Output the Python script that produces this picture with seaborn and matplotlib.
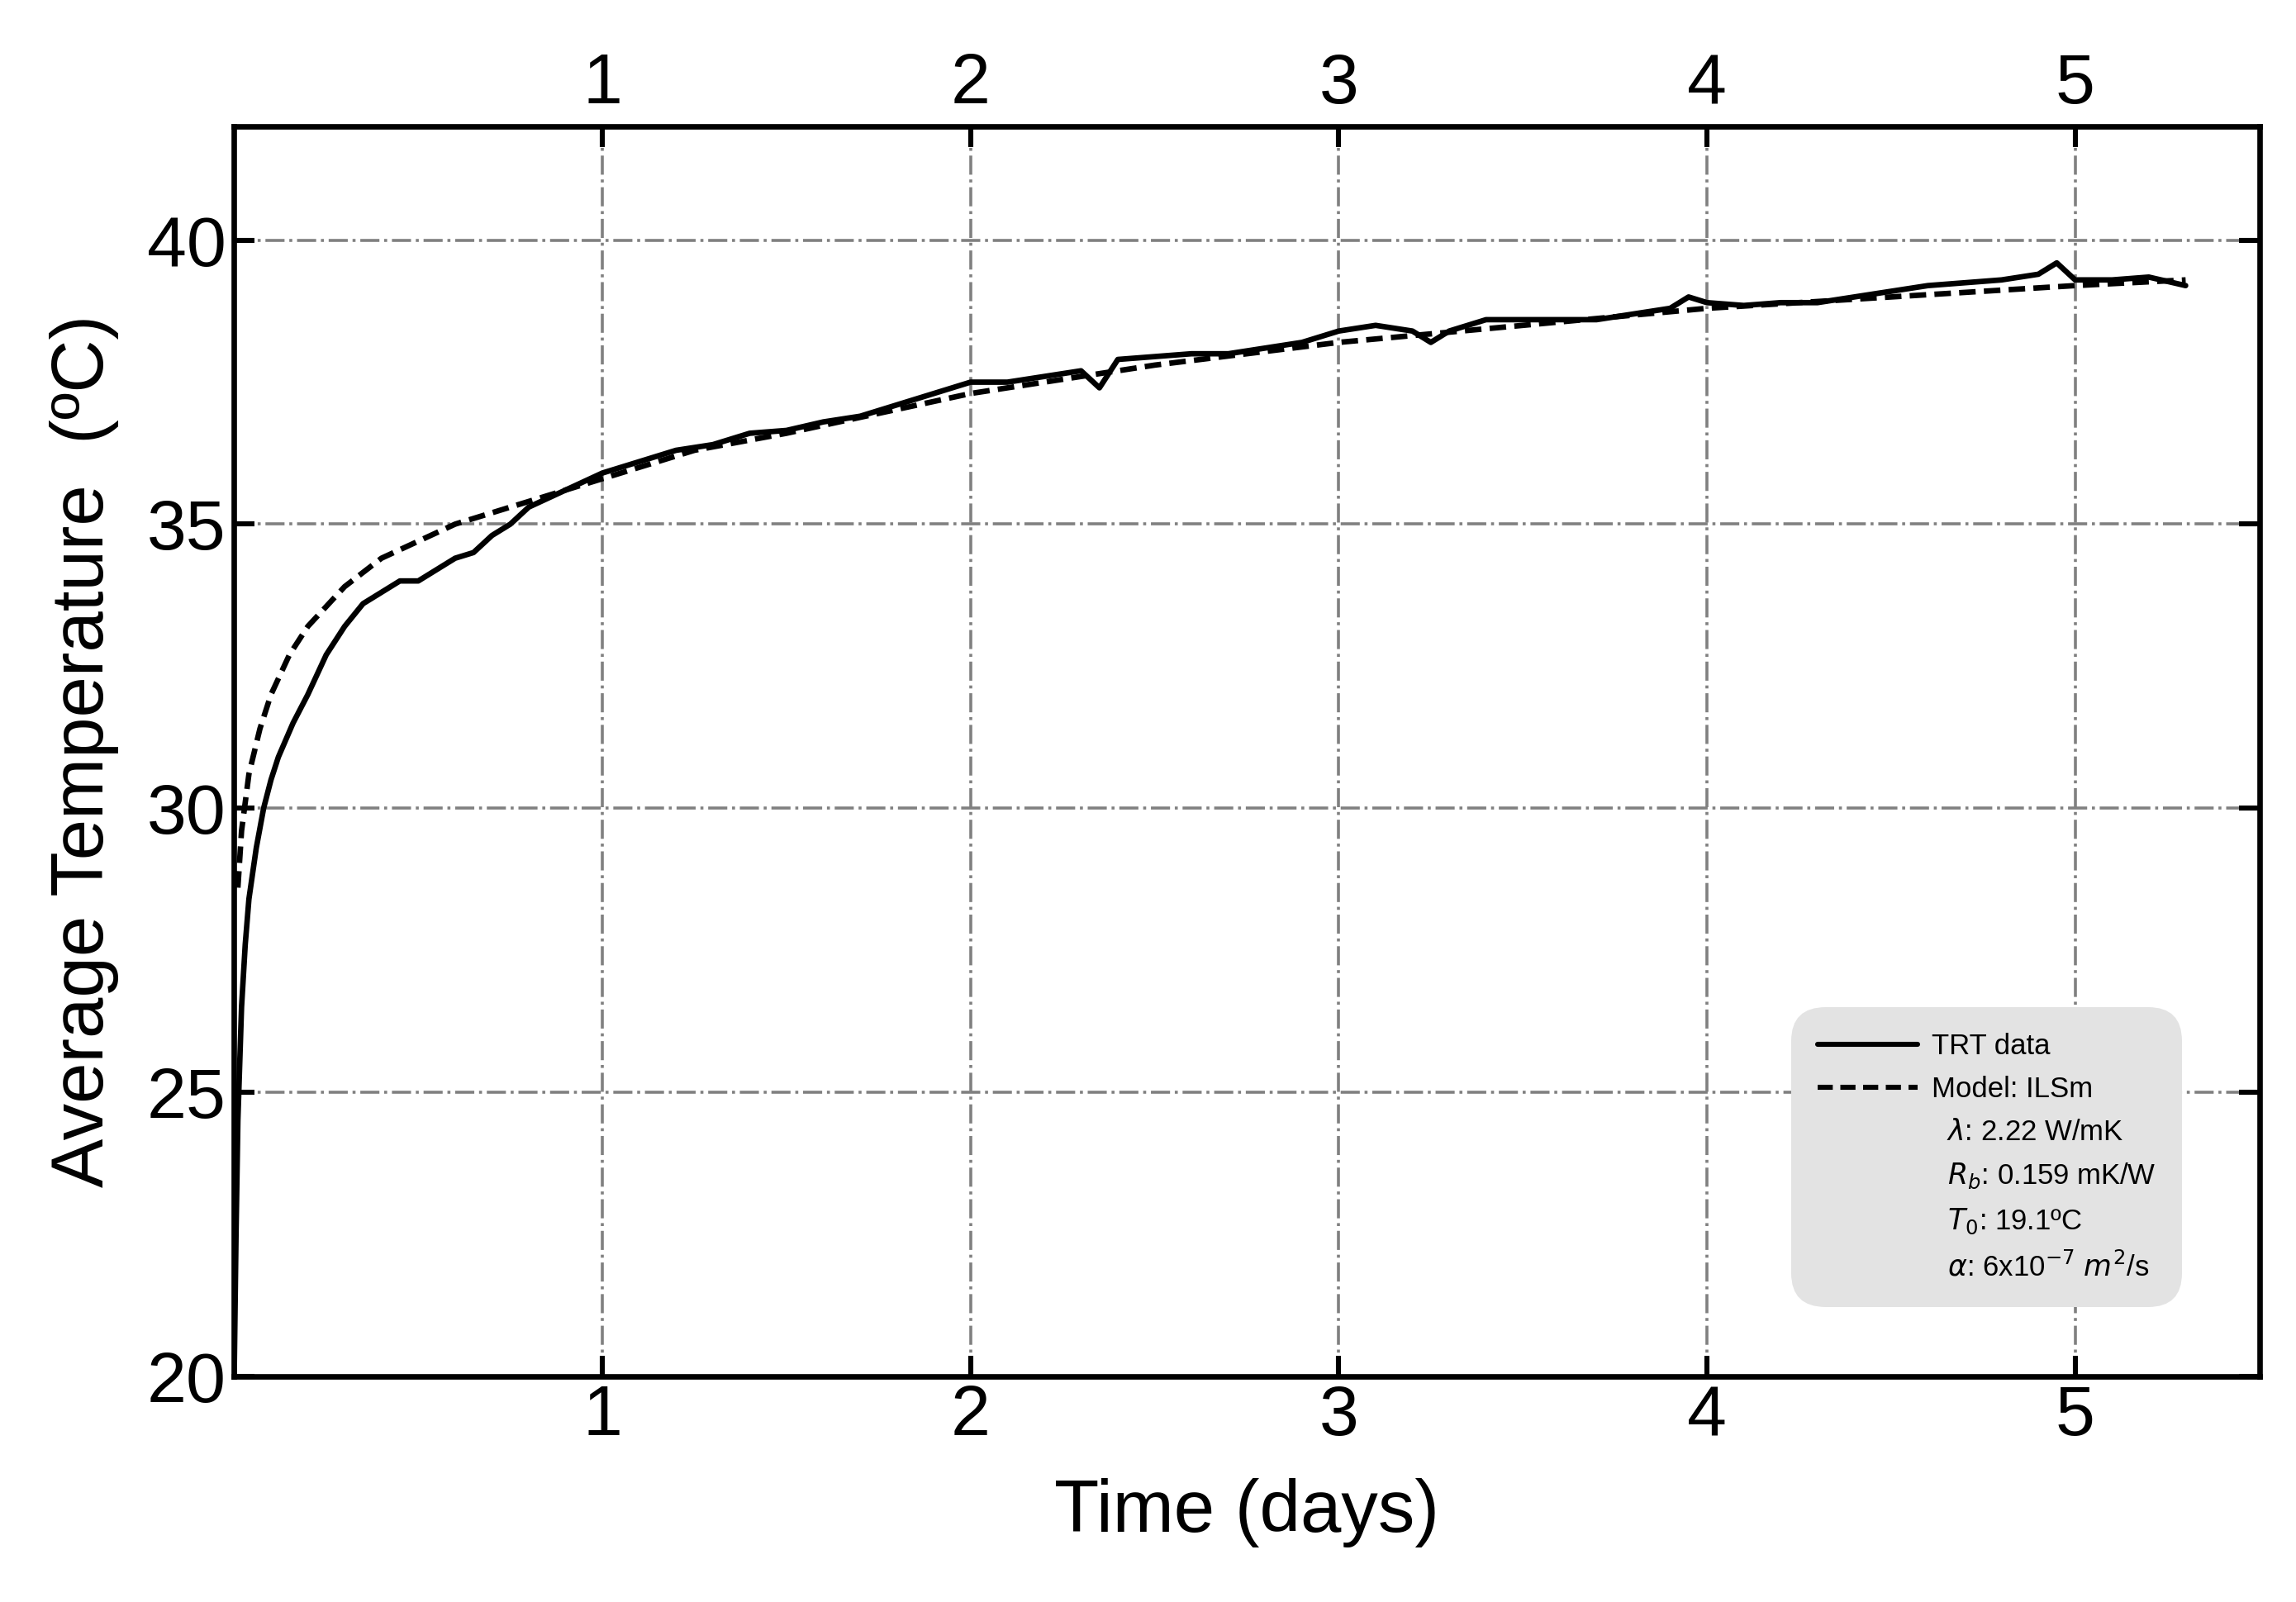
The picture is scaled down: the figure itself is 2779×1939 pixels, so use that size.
import numpy as np
import pandas as pd
import matplotlib
matplotlib.use("Agg")
import matplotlib.pyplot as plt
from matplotlib.lines import Line2D
import seaborn as sns

trt_days = [0.0, 0.005, 0.01, 0.02, 0.03, 0.04, 0.06, 0.08, 0.1, 0.12, 0.16, 0.2, 0.25, 0.3, 0.35, 0.4, 0.45,
            0.5, 0.55, 0.6, 0.65, 0.7, 0.75, 0.8, 0.9, 1.0, 1.1, 1.2, 1.3, 1.4, 1.5, 1.6, 1.7, 1.8, 1.9, 2.0,
            2.1, 2.2, 2.3, 2.35, 2.4, 2.5, 2.6, 2.7, 2.8, 2.9, 3.0, 3.1, 3.2, 3.25, 3.3, 3.4, 3.5, 3.6, 3.7,
            3.8, 3.9, 3.95, 4.0, 4.1, 4.2, 4.3, 4.4, 4.5, 4.6, 4.7, 4.8, 4.9, 4.95, 5.0, 5.1, 5.2, 5.3]
trt_temp = [20.0, 22.5, 24.5, 26.5, 27.6, 28.4, 29.3, 30.0, 30.5, 30.9, 31.5, 32.0, 32.7, 33.2, 33.6, 33.8, 34.0,
            34.0, 34.2, 34.4, 34.5, 34.8, 35.0, 35.3, 35.6, 35.9, 36.1, 36.3, 36.4, 36.6, 36.65, 36.8, 36.9, 37.1, 37.3, 37.5,
            37.5, 37.6, 37.7, 37.4, 37.9, 37.95, 38.0, 38.0, 38.1, 38.2, 38.4, 38.5, 38.4, 38.2, 38.4, 38.6, 38.6, 38.6, 38.6,
            38.7, 38.8, 39.0, 38.9, 38.85, 38.9, 38.9, 39.0, 39.1, 39.2, 39.25, 39.3, 39.4, 39.6, 39.3, 39.3, 39.35, 39.2]
model_days = [0.01, 0.02, 0.04, 0.07, 0.1, 0.15, 0.2, 0.3, 0.4, 0.5, 0.6, 0.7, 0.85, 1.0, 1.25, 1.5, 1.75,
              2.0, 2.5, 3.0, 3.5, 4.0, 4.5, 5.0, 5.3]
model_temp = [28.6, 29.6, 30.6, 31.4, 32.0, 32.7, 33.2, 33.9, 34.4, 34.7, 35.0, 35.2, 35.5, 35.8, 36.3, 36.6, 36.95,
              37.3, 37.8, 38.2, 38.5, 38.8, 39.0, 39.2, 39.3]
legend_labels = ["TRT data", "Model: ILSm", r"  $\lambda$: 2.22 W/mK", r"  $R_b$: 0.159 mK/W",
                 r"  $T_0$: 19.1ºC", r"  $\alpha$: 6x10$^{-7}$ $m^2$/s"]

sns.set_theme(style="white")
plt.rcParams['font.family'] = ['Liberation Sans', 'DejaVu Sans']
plt.rcParams['mathtext.fontset'] = 'dejavusans'
plt.rcParams['text.color'] = 'black'
plt.rcParams['axes.labelcolor'] = 'black'
plt.rcParams['xtick.color'] = 'black'
plt.rcParams['ytick.color'] = 'black'

fig = plt.figure(figsize=(13.895, 9.695), dpi=200)
ax = fig.add_axes([0.102, 0.141, 0.882, 0.780])
df1 = pd.DataFrame({"d": trt_days, "t": trt_temp})
df2 = pd.DataFrame({"d": model_days, "t": model_temp})
sns.lineplot(data=df2, x="d", y="t", ax=ax, color="black", lw=2.4, linestyle=(0, (3, 1.5)), sort=False)
sns.lineplot(data=df1, x="d", y="t", ax=ax, color="black", lw=2.4, sort=False)

ax.set_xlim(0, 5.5)
ax.set_ylim(20, 42)
ax.set_xticks([1, 2, 3, 4, 5])
ax.set_yticks([20, 25, 30, 35, 40])
ax.tick_params(axis="both", direction="in", length=9, width=2.2, labelsize=31,
               top=True, labeltop=True, right=True, left=True, bottom=True)
ax.grid(True, color="gray", linestyle="-.", lw=1.3)
for s in ax.spines.values():
    s.set_linewidth(2.4); s.set_color("black")
ax.set_xlabel("Time (days)", fontsize=32, labelpad=12)
ax.set_ylabel("Average Temperature  (ºC)", fontsize=32, labelpad=12)

handles = [Line2D([], [], color="black", lw=2.2),
           Line2D([], [], color="black", lw=2.2, linestyle=(0, (3, 1.5)))] + \
          [Line2D([], [], color="none")] * 4
leg = ax.legend(handles, legend_labels, loc="lower right", bbox_to_anchor=(0.962, 0.055),
                fontsize=12.5, frameon=True, fancybox=True, handlelength=3.5, handletextpad=0.5,
                labelspacing=0.55, borderpad=0.9, borderaxespad=0)
leg.get_frame().set_facecolor("#e3e3e3")
leg.get_frame().set_edgecolor("none")
leg.get_frame().set_alpha(1)
leg.get_frame().set_boxstyle("round", pad=0.0, rounding_size=1.2)
fig.savefig("out.png", dpi=200)
